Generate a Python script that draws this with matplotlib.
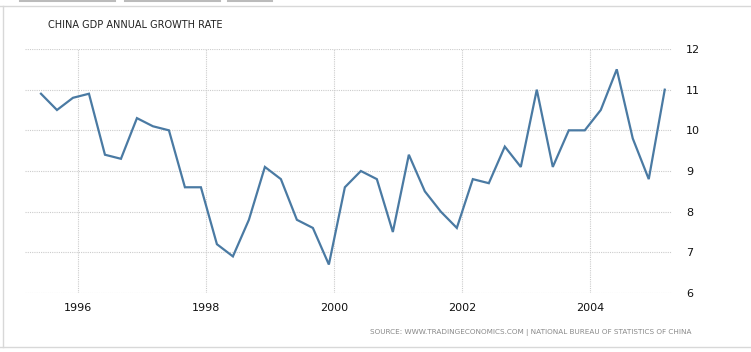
import matplotlib
matplotlib.use('Agg')
import numpy as np
import matplotlib.pyplot as plt
from matplotlib.lines import Line2D

# quarterly readings, first point is June 1995 (dates taken as the 1st of the quarter's last month)
start_year = 1995
start_month = 6
growth = [10.9, 10.5, 10.8, 10.9, 9.4, 9.3, 10.3, 10.1, 10.0, 8.6,
          8.6, 7.2, 6.9, 7.8, 9.1, 8.8, 7.8, 7.6, 6.7, 8.6,
          9.0, 8.8, 7.5, 9.4, 8.5, 8.0, 7.6, 8.8, 8.7, 9.6,
          9.1, 11.0, 9.1, 10.0, 10.0, 10.5, 11.5, 9.8, 8.8, 11.0]
year_ticks = [1996, 1998, 2000, 2002, 2004]
y_ticks = [6, 7, 8, 9, 10, 11, 12]

title = 'CHINA GDP ANNUAL GROWTH RATE'
source = 'SOURCE: WWW.TRADINGECONOMICS.COM | NATIONAL BUREAU OF STATISTICS OF CHINA'

# decimal year for each quarter
months = start_month - 1 + 3 * np.arange(len(growth))
t = start_year + months // 12 + (months % 12) / 12.0

W, H = 751, 352
fig = plt.figure(figsize=(W / 100, H / 100), dpi=100)
fig.patch.set_facecolor('white')

# axes box in pixel terms: x 25..672, y 49..293
ax = fig.add_axes([25 / W, 1 - 293 / H, (672 - 25) / W, (293 - 49) / H])
ax.plot(t, growth, color='#4a7aa3', lw=1.6, solid_joinstyle='miter')

ax.set_xlim(1995.167, 2005.28)
ax.set_ylim(6, 12)
ax.set_xticks(year_ticks)
ax.set_xticklabels([str(y) for y in year_ticks])
ax.set_yticks(y_ticks)
ax.yaxis.tick_right()
ax.tick_params(axis='both', length=0, labelsize=8, labelcolor='#111111')
ax.tick_params(axis='y', pad=10)
ax.tick_params(axis='x', pad=7)
ax.grid(True, color='#cccccc', linestyle=(0, (1, 1)), linewidth=0.8)
for s in ax.spines.values():
    s.set_visible(False)

fig.text(48 / W, 1 - 25 / H, title, fontsize=7, color='#222222', va='center', ha='left')
fig.text(531 / W, 1 - 332 / H, source, fontsize=5.2, color='#888888', va='center', ha='center')

# page frame around the widget
frame = '#d8d8d8'
fig.add_artist(Line2D([0, 1], [1 - 6 / H, 1 - 6 / H], color=frame, lw=1, transform=fig.transFigure))
fig.add_artist(Line2D([3 / W, 3 / W], [1 - 6 / H, 1 - 347 / H], color=frame, lw=1, transform=fig.transFigure))
fig.add_artist(Line2D([0, 1], [1 - 347 / H, 1 - 347 / H], color=frame, lw=1, transform=fig.transFigure))
for x0, x1 in [(20, 115), (125, 220), (228, 272)]:
    fig.add_artist(Line2D([x0 / W, x1 / W], [1 - 1 / H, 1 - 1 / H], color='#bbbbbb', lw=1.5,
                          transform=fig.transFigure))

fig.savefig('out.png', dpi=100)
